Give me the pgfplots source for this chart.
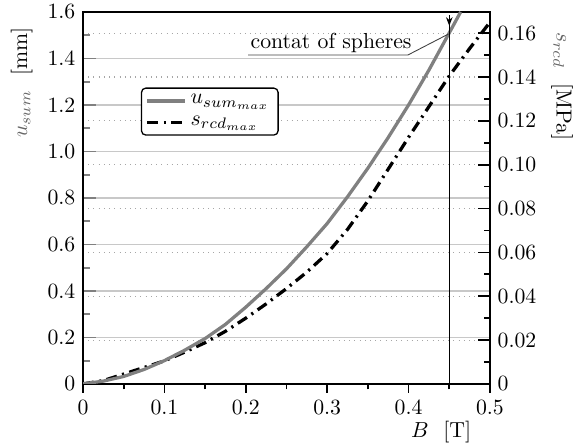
\documentclass[border=0pt]{standalone}
\usepackage{pgfplots}
\pgfplotsset{compat=1.18}
\usetikzlibrary{arrows.meta}
\definecolor{curvegray}{RGB}{128,128,128}
\definecolor{gridgray}{RGB}{200,200,200}
\begin{document}
\begin{tikzpicture}
\pgfplotsset{every axis/.append style={width=187.2pt,height=171.1pt,scale only axis,xmin=0,xmax=0.5}}
% left y axis: solid grid, inward gray ticks, labels
\begin{axis}[
  ymin=0, ymax=1.6,
  hide x axis,
  ytick pos=left,
  y axis line style={draw=none},
  ytick={0,0.2,0.4,0.6,0.8,1.0,1.2,1.4,1.6},
  yticklabels={0,0.2,0.4,0.6,0.8,1.0,1.2,1.4,1.6},
  minor y tick num=1,
  tick align=inside,
  ytick style={curvegray, thick},
  major tick length=6pt, minor tick length=3pt,
  ymajorgrids, major grid style={gridgray, line width=0.6pt},
  ylabel={{\color{black!60}$u_{sum}$}\ \ [mm]},
  ylabel style={at={(ticklabel cs:0.81)}},
]
\end{axis}
% right y axis: dotted grid, inward black ticks, s_rcd curve
\begin{axis}[
  ymin=0, ymax=0.1697,
  hide x axis,
  axis y line*=right,
  y axis line style={draw=none},
  ytick={0,0.02,0.04,0.06,0.08,0.10,0.12,0.14,0.16},
  yticklabels={0,0.02,0.04,0.06,0.08,0.10,0.12,0.14,0.16},
  minor y tick num=1,
  tick align=inside,
  ytick style={black, thick},
  major tick length=5.5pt, minor tick length=2.8pt,
  ymajorgrids, major grid style={gray!70, dotted, line width=0.5pt},
  ylabel={{\color{black!60}$s_{rcd}$}\ \ [MPa]},
  ylabel style={at={(ticklabel cs:0.80)}, rotate=180},
]
\addplot[black, line width=1.5pt, dash pattern=on 5pt off 2.5pt on 1pt off 2.5pt] coordinates {
(0,0) (0.025,0.0015) (0.05,0.0045) (0.075,0.0075) (0.1,0.0105) (0.125,0.0145)
(0.15,0.0188) (0.175,0.024) (0.2,0.030) (0.225,0.0365) (0.25,0.0435)
(0.275,0.051) (0.3,0.0595) (0.325,0.0705) (0.35,0.0835) (0.375,0.098)
(0.4,0.1125) (0.425,0.1265) (0.45,0.1405) (0.475,0.153) (0.5,0.165)
};
\end{axis}
% main axis: frame, x axis, u_sum curve, annotation, legend
\begin{axis}[
  name=main,
  ymin=0, ymax=1.6,
  xtick={0,0.1,0.2,0.3,0.4,0.5},
  xticklabels={0,0.1,0.2,0.3,0.4,0.5},
  minor x tick num=1,
  ytick=\empty,
  xtick pos=left,
  tick align=outside,
  major tick length=4pt, minor tick length=2.5pt,
  xtick style={black, thick},
  axis line style={black, line width=0.9pt},
  xlabel={$B$\ \ [T]},
  xlabel style={at={(ticklabel cs:0.88)}, yshift=4pt},
  legend style={at={(0.142,0.797)}, anchor=north west, rounded corners=2pt,
    inner xsep=2pt, inner ysep=1pt, row sep=0pt, draw=black, line width=0.6pt},
  legend cell align=left,
]
\addplot[curvegray, line width=1.5pt] coordinates {
(0,0) (0.025,0.012) (0.05,0.032) (0.075,0.062) (0.1,0.1) (0.125,0.145)
(0.15,0.195) (0.175,0.256) (0.2,0.33) (0.225,0.41) (0.25,0.495) (0.275,0.59)
(0.3,0.69) (0.325,0.805) (0.35,0.928) (0.375,1.06) (0.4,1.2) (0.425,1.35)
(0.45,1.51) (0.464,1.6)
};
\addlegendentry{$u_{sum_{max}}$}
\addlegendimage{black, line width=1.5pt, dash pattern=on 5pt off 2.5pt on 1pt off 2.5pt}
\addlegendentry{$s_{rcd_{max}}$}
\draw[black, line width=0.7pt] (axis cs:0.45,0) -- (axis cs:0.45,1.57);
\draw[black, line width=0.6pt, -{Stealth[length=4pt,width=3pt]}] (axis cs:0.45,1.585) -- (axis cs:0.45,1.54);
\draw[black!75, line width=0.4pt] (axis cs:0.2027,1.415) -- (axis cs:0.3993,1.415) -- (axis cs:0.449,1.505);
\node[anchor=south west, inner sep=1pt] at (axis cs:0.2027,1.415) {contat of spheres};
\end{axis}
\pgfresetboundingbox
\useasboundingbox ([shift={(-38.2pt,-28.1pt)}]main.south west) rectangle ([shift={(38.2pt,5.5pt)}]main.north east);
\end{tikzpicture}
\end{document}
